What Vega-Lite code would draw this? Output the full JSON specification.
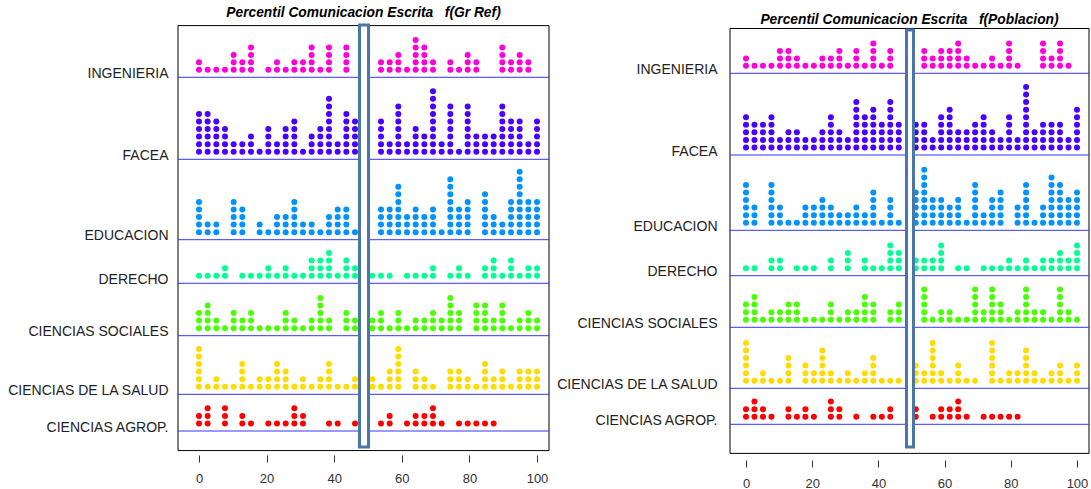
{
"$schema":"https://vega.github.io/schema/vega-lite/v6.json",
"autosize":{"type":"none"},
"padding":{"left":178,"top":25,"right":913,"bottom":464},
"background":"white",
"config":{"view":{"stroke":null},"font":"Liberation Sans","axis":{"labelFont":"Liberation Sans","titleFont":"Liberation Sans"},"title":{"font":"Liberation Sans"}},
"bounds":"flush",
"spacing":181,
"hconcat":[
{
"width":371,"height":430,
"title":{"text":"Percentil Comunicacion Escrita\u00a0\u00a0\u00a0f(Gr Ref)","fontSize":13.8,"fontStyle":"italic","fontWeight":"bold","anchor":"middle","frame":"group","offset":-7,"baseline":"alphabetic","color":"#000"},
"resolve":{"scale":{"y":"independent"},"axis":{"y":"independent"}},
"layer":[
{"data":{"values":"pct\n0\n0\n2.56\n5.13\n7.69\n10.26\n10.26\n10.26\n12.82\n12.82\n15.38\n15.38\n15.38\n15.38\n20.51\n23.08\n23.08\n25.64\n28.21\n28.21\n30.77\n30.77\n33.33\n33.33\n33.33\n33.33\n35.9\n38.46\n38.46\n38.46\n38.46\n43.59\n43.59\n43.59\n43.59\n53.85\n53.85\n56.41\n56.41\n58.97\n58.97\n58.97\n61.54\n64.1\n64.1\n64.1\n64.1\n64.1\n66.67\n66.67\n66.67\n66.67\n69.23\n69.23\n74.36\n74.36\n76.92\n79.49\n79.49\n79.49\n82.05\n82.05\n89.74\n89.74\n89.74\n89.74\n92.31\n92.31\n94.87\n94.87\n94.87\n97.44\n97.44","format":{"type":"csv","parse":{"pct":"number"}}},
"transform":[{"window":[{"op":"row_number","as":"n"}],"groupby":["pct"]}],
"layer":[
{"data":{"values":[{}]},"mark":{"type":"rect","filled":false,"stroke":"#000","strokeWidth":1},"encoding":{"x":{"datum":-6.21},"x2":{"datum":103.55},"y":{"datum":6.918},"y2":{"datum":-49.96}}},
{"mark":{"type":"circle","size":36,"opacity":1,"color":"#FF00DB"},"encoding":{"x":{"field":"pct","type":"quantitative","scale":{"domain":[-6.21,103.55],"nice":false,"zero":false},"axis":{"values":[0,20,40,60,80,100],"grid":false,"domain":false,"tickSize":7,"tickColor":"#333","labelFontSize":13,"labelColor":"#333","labelPadding":10,"title":null}},"y":{"field":"n","type":"quantitative","scale":{"domain":[0,6.918],"range":[52.3,0]},"axis":{"title":"INGENIERIA","orient":"left","titleAngle":0,"titleAlign":"right","titleBaseline":"alphabetic","titleX":-10,"titleY":52.3,"titleFontSize":14,"titleFontWeight":"normal","titleColor":"#222","titleLimit":400,"labels":false,"ticks":false,"domain":false,"grid":false}}}},
{"data":{"values":[{}]},"mark":{"type":"rule","color":"#3535ff","strokeWidth":1},"encoding":{"y":{"datum":0}}}
]},
{"data":{"values":"pct\n0\n0\n0\n0\n0\n0\n2.56\n2.56\n2.56\n2.56\n2.56\n2.56\n5.13\n5.13\n5.13\n5.13\n5.13\n7.69\n7.69\n7.69\n7.69\n10.26\n10.26\n12.82\n12.82\n15.38\n15.38\n15.38\n17.95\n20.51\n20.51\n20.51\n20.51\n23.08\n23.08\n25.64\n25.64\n25.64\n25.64\n28.21\n28.21\n28.21\n28.21\n28.21\n30.77\n33.33\n33.33\n33.33\n35.9\n35.9\n35.9\n35.9\n38.46\n38.46\n38.46\n38.46\n38.46\n38.46\n38.46\n38.46\n41.03\n41.03\n43.59\n43.59\n43.59\n43.59\n43.59\n43.59\n46.15\n46.15\n46.15\n46.15\n46.15\n53.85\n53.85\n53.85\n53.85\n53.85\n56.41\n56.41\n58.97\n58.97\n58.97\n58.97\n58.97\n58.97\n58.97\n61.54\n61.54\n64.1\n64.1\n64.1\n64.1\n66.67\n66.67\n66.67\n69.23\n69.23\n69.23\n69.23\n69.23\n69.23\n69.23\n69.23\n69.23\n71.79\n71.79\n74.36\n74.36\n74.36\n74.36\n74.36\n74.36\n74.36\n76.92\n79.49\n79.49\n79.49\n79.49\n79.49\n79.49\n79.49\n82.05\n82.05\n82.05\n84.62\n84.62\n84.62\n87.18\n87.18\n87.18\n89.74\n89.74\n89.74\n89.74\n89.74\n89.74\n89.74\n92.31\n92.31\n92.31\n92.31\n92.31\n94.87\n94.87\n94.87\n94.87\n94.87\n97.44\n97.44\n100\n100\n100\n100\n100","format":{"type":"csv","parse":{"pct":"number"}}},
"transform":[{"window":[{"op":"row_number","as":"n"}],"groupby":["pct"]}],
"layer":[
{"mark":{"type":"circle","size":36,"opacity":1,"color":"#4900FF"},"encoding":{"x":{"field":"pct","type":"quantitative","scale":{"domain":[-6.21,103.55],"nice":false,"zero":false},"axis":{"values":[0,20,40,60,80,100],"grid":false,"domain":false,"tickSize":7,"tickColor":"#333","labelFontSize":13,"labelColor":"#333","labelPadding":10,"title":null}},"y":{"field":"n","type":"quantitative","scale":{"domain":[0,10],"range":[134.3,58.7]},"axis":{"title":"FACEA","orient":"left","titleAngle":0,"titleAlign":"right","titleBaseline":"alphabetic","titleX":-10,"titleY":134.3,"titleFontSize":14,"titleFontWeight":"normal","titleColor":"#222","titleLimit":400,"labels":false,"ticks":false,"domain":false,"grid":false}}}},
{"data":{"values":[{}]},"mark":{"type":"rule","color":"#3535ff","strokeWidth":1},"encoding":{"y":{"datum":0}}}
]},
{"data":{"values":"pct\n0\n0\n0\n0\n0\n2.56\n2.56\n5.13\n5.13\n10.26\n10.26\n10.26\n10.26\n10.26\n12.82\n12.82\n12.82\n12.82\n17.95\n17.95\n20.51\n23.08\n23.08\n23.08\n25.64\n25.64\n25.64\n28.21\n28.21\n28.21\n28.21\n28.21\n30.77\n30.77\n33.33\n33.33\n35.9\n38.46\n38.46\n38.46\n41.03\n41.03\n41.03\n41.03\n43.59\n43.59\n43.59\n43.59\n46.15\n53.85\n53.85\n53.85\n53.85\n56.41\n56.41\n56.41\n56.41\n58.97\n58.97\n58.97\n58.97\n58.97\n58.97\n58.97\n61.54\n61.54\n61.54\n64.1\n64.1\n64.1\n64.1\n66.67\n66.67\n66.67\n69.23\n69.23\n69.23\n69.23\n71.79\n74.36\n74.36\n74.36\n74.36\n74.36\n74.36\n74.36\n74.36\n76.92\n76.92\n76.92\n76.92\n79.49\n79.49\n79.49\n79.49\n79.49\n84.62\n84.62\n84.62\n84.62\n84.62\n84.62\n87.18\n87.18\n87.18\n89.74\n89.74\n92.31\n92.31\n92.31\n92.31\n92.31\n94.87\n94.87\n94.87\n94.87\n94.87\n94.87\n94.87\n94.87\n94.87\n97.44\n97.44\n97.44\n97.44\n97.44\n100\n100\n100\n100\n100","format":{"type":"csv","parse":{"pct":"number"}}},
"transform":[{"window":[{"op":"row_number","as":"n"}],"groupby":["pct"]}],
"layer":[
{"mark":{"type":"circle","size":36,"opacity":1,"color":"#0092FF"},"encoding":{"x":{"field":"pct","type":"quantitative","scale":{"domain":[-6.21,103.55],"nice":false,"zero":false},"axis":{"values":[0,20,40,60,80,100],"grid":false,"domain":false,"tickSize":7,"tickColor":"#333","labelFontSize":13,"labelColor":"#333","labelPadding":10,"title":null}},"y":{"field":"n","type":"quantitative","scale":{"domain":[0,10],"range":[214.7,139.1]},"axis":{"title":"EDUCACION","orient":"left","titleAngle":0,"titleAlign":"right","titleBaseline":"alphabetic","titleX":-10,"titleY":214.7,"titleFontSize":14,"titleFontWeight":"normal","titleColor":"#222","titleLimit":400,"labels":false,"ticks":false,"domain":false,"grid":false}}}},
{"data":{"values":[{}]},"mark":{"type":"rule","color":"#3535ff","strokeWidth":1},"encoding":{"y":{"datum":0}}}
]},
{"data":{"values":"pct\n0\n2.56\n5.13\n7.69\n7.69\n12.82\n15.38\n17.95\n20.51\n20.51\n23.08\n25.64\n25.64\n28.21\n30.77\n33.33\n33.33\n33.33\n35.9\n35.9\n35.9\n38.46\n38.46\n38.46\n38.46\n41.03\n43.59\n43.59\n43.59\n46.15\n46.15\n51.28\n53.85\n56.41\n61.54\n64.1\n66.67\n69.23\n69.23\n74.36\n76.92\n76.92\n79.49\n84.62\n84.62\n87.18\n87.18\n87.18\n89.74\n92.31\n92.31\n92.31\n94.87\n97.44\n97.44\n100\n100","format":{"type":"csv","parse":{"pct":"number"}}},
"transform":[{"window":[{"op":"row_number","as":"n"}],"groupby":["pct"]}],
"layer":[
{"mark":{"type":"circle","size":36,"opacity":1,"color":"#00FF92"},"encoding":{"x":{"field":"pct","type":"quantitative","scale":{"domain":[-6.21,103.55],"nice":false,"zero":false},"axis":{"values":[0,20,40,60,80,100],"grid":false,"domain":false,"tickSize":7,"tickColor":"#333","labelFontSize":13,"labelColor":"#333","labelPadding":10,"title":null}},"y":{"field":"n","type":"quantitative","scale":{"domain":[0,10],"range":[258.3,182.7]},"axis":{"title":"DERECHO","orient":"left","titleAngle":0,"titleAlign":"right","titleBaseline":"alphabetic","titleX":-10,"titleY":258.3,"titleFontSize":14,"titleFontWeight":"normal","titleColor":"#222","titleLimit":400,"labels":false,"ticks":false,"domain":false,"grid":false}}}},
{"data":{"values":[{}]},"mark":{"type":"rule","color":"#3535ff","strokeWidth":1},"encoding":{"y":{"datum":0}}}
]},
{"data":{"values":"pct\n0\n0\n0\n2.56\n2.56\n2.56\n2.56\n5.13\n5.13\n7.69\n10.26\n10.26\n10.26\n12.82\n12.82\n15.38\n15.38\n15.38\n17.95\n20.51\n23.08\n25.64\n25.64\n25.64\n28.21\n28.21\n30.77\n33.33\n33.33\n35.9\n35.9\n35.9\n35.9\n35.9\n38.46\n38.46\n43.59\n43.59\n43.59\n46.15\n46.15\n51.28\n51.28\n53.85\n53.85\n53.85\n56.41\n58.97\n58.97\n58.97\n61.54\n64.1\n64.1\n66.67\n66.67\n69.23\n69.23\n69.23\n71.79\n71.79\n74.36\n74.36\n74.36\n74.36\n74.36\n76.92\n76.92\n76.92\n82.05\n82.05\n82.05\n82.05\n84.62\n84.62\n84.62\n84.62\n87.18\n87.18\n89.74\n89.74\n89.74\n89.74\n92.31\n94.87\n94.87\n97.44\n97.44\n97.44\n100\n100","format":{"type":"csv","parse":{"pct":"number"}}},
"transform":[{"window":[{"op":"row_number","as":"n"}],"groupby":["pct"]}],
"layer":[
{"mark":{"type":"circle","size":36,"opacity":1,"color":"#49FF00"},"encoding":{"x":{"field":"pct","type":"quantitative","scale":{"domain":[-6.21,103.55],"nice":false,"zero":false},"axis":{"values":[0,20,40,60,80,100],"grid":false,"domain":false,"tickSize":7,"tickColor":"#333","labelFontSize":13,"labelColor":"#333","labelPadding":10,"title":null}},"y":{"field":"n","type":"quantitative","scale":{"domain":[0,10],"range":[310.7,235.1]},"axis":{"title":"CIENCIAS SOCIALES","orient":"left","titleAngle":0,"titleAlign":"right","titleBaseline":"alphabetic","titleX":-10,"titleY":310.7,"titleFontSize":14,"titleFontWeight":"normal","titleColor":"#222","titleLimit":400,"labels":false,"ticks":false,"domain":false,"grid":false}}}},
{"data":{"values":[{}]},"mark":{"type":"rule","color":"#3535ff","strokeWidth":1},"encoding":{"y":{"datum":0}}}
]},
{"data":{"values":"pct\n0\n0\n0\n0\n0\n0\n2.56\n5.13\n5.13\n7.69\n10.26\n12.82\n12.82\n12.82\n12.82\n15.38\n17.95\n17.95\n20.51\n20.51\n23.08\n23.08\n23.08\n23.08\n25.64\n25.64\n25.64\n28.21\n30.77\n30.77\n33.33\n35.9\n35.9\n38.46\n38.46\n38.46\n38.46\n41.03\n43.59\n46.15\n46.15\n51.28\n51.28\n53.85\n56.41\n56.41\n56.41\n58.97\n58.97\n58.97\n58.97\n58.97\n58.97\n64.1\n64.1\n64.1\n66.67\n66.67\n69.23\n74.36\n74.36\n74.36\n76.92\n76.92\n76.92\n79.49\n79.49\n82.05\n84.62\n84.62\n84.62\n84.62\n87.18\n87.18\n89.74\n89.74\n89.74\n92.31\n94.87\n94.87\n94.87\n97.44\n97.44\n97.44\n100\n100\n100","format":{"type":"csv","parse":{"pct":"number"}}},
"transform":[{"window":[{"op":"row_number","as":"n"}],"groupby":["pct"]}],
"layer":[
{"mark":{"type":"circle","size":36,"opacity":1,"color":"#FFDB00"},"encoding":{"x":{"field":"pct","type":"quantitative","scale":{"domain":[-6.21,103.55],"nice":false,"zero":false},"axis":{"values":[0,20,40,60,80,100],"grid":false,"domain":false,"tickSize":7,"tickColor":"#333","labelFontSize":13,"labelColor":"#333","labelPadding":10,"title":null}},"y":{"field":"n","type":"quantitative","scale":{"domain":[0,10],"range":[369.3,293.7]},"axis":{"title":"CIENCIAS DE LA SALUD","orient":"left","titleAngle":0,"titleAlign":"right","titleBaseline":"alphabetic","titleX":-10,"titleY":369.3,"titleFontSize":14,"titleFontWeight":"normal","titleColor":"#222","titleLimit":400,"labels":false,"ticks":false,"domain":false,"grid":false}}}},
{"data":{"values":[{}]},"mark":{"type":"rule","color":"#3535ff","strokeWidth":1},"encoding":{"y":{"datum":0}}}
]},
{"data":{"values":"pct\n0\n0\n2.56\n2.56\n2.56\n7.69\n7.69\n7.69\n12.82\n12.82\n15.38\n20.51\n23.08\n25.64\n28.21\n28.21\n28.21\n30.77\n30.77\n38.46\n41.03\n46.15\n53.85\n56.41\n56.41\n61.54\n64.1\n64.1\n66.67\n66.67\n69.23\n69.23\n69.23\n71.79\n76.92\n79.49\n82.05\n84.62\n87.18","format":{"type":"csv","parse":{"pct":"number"}}},
"transform":[{"window":[{"op":"row_number","as":"n"}],"groupby":["pct"]}],
"layer":[
{"mark":{"type":"circle","size":36,"opacity":1,"color":"#FF0000"},"encoding":{"x":{"field":"pct","type":"quantitative","scale":{"domain":[-6.21,103.55],"nice":false,"zero":false},"axis":{"values":[0,20,40,60,80,100],"grid":false,"domain":false,"tickSize":7,"tickColor":"#333","labelFontSize":13,"labelColor":"#333","labelPadding":10,"title":null}},"y":{"field":"n","type":"quantitative","scale":{"domain":[0,10],"range":[406,330.4]},"axis":{"title":"CIENCIAS AGROP.","orient":"left","titleAngle":0,"titleAlign":"right","titleBaseline":"alphabetic","titleX":-10,"titleY":406,"titleFontSize":14,"titleFontWeight":"normal","titleColor":"#222","titleLimit":400,"labels":false,"ticks":false,"domain":false,"grid":false}}}},
{"data":{"values":[{}]},"mark":{"type":"rule","color":"#3535ff","strokeWidth":1},"encoding":{"y":{"datum":0}}},
{"data":{"values":[{}]},"mark":{"type":"rect","fill":"white","stroke":"#4a76a6","strokeWidth":3},"encoding":{"x":{"datum":47.49},"x2":{"datum":50.15},"y":{"datum":53.7},"y2":{"datum":-2.116}}}
]}
]
},
{
"width":359,"height":435,
"title":{"text":"Percentil Comunicacion Escrita\u00a0\u00a0\u00a0f(Poblacion)","fontSize":13.8,"fontStyle":"italic","fontWeight":"bold","anchor":"middle","frame":"group","offset":-12.3,"baseline":"alphabetic","color":"#000"},
"resolve":{"scale":{"y":"independent"},"axis":{"y":"independent"}},
"layer":[
{"data":{"values":"pct\n0\n0\n2.56\n5.13\n7.69\n10.26\n10.26\n10.26\n12.82\n12.82\n12.82\n15.38\n15.38\n17.95\n20.51\n23.08\n23.08\n25.64\n25.64\n28.21\n28.21\n28.21\n30.77\n33.33\n33.33\n33.33\n35.9\n38.46\n38.46\n38.46\n38.46\n41.03\n43.59\n43.59\n43.59\n53.85\n53.85\n53.85\n56.41\n56.41\n58.97\n58.97\n58.97\n61.54\n61.54\n61.54\n64.1\n64.1\n64.1\n64.1\n66.67\n66.67\n69.23\n71.79\n74.36\n74.36\n76.92\n79.49\n79.49\n79.49\n79.49\n82.05\n89.74\n89.74\n89.74\n89.74\n92.31\n92.31\n94.87\n94.87\n94.87\n94.87\n97.44","format":{"type":"csv","parse":{"pct":"number"}}},
"transform":[{"window":[{"op":"row_number","as":"n"}],"groupby":["pct"]}],
"layer":[
{"data":{"values":[{}]},"mark":{"type":"rect","filled":false,"stroke":"#000","strokeWidth":1},"encoding":{"x":{"datum":-4.83},"x2":{"datum":103.63},"y":{"datum":6.032},"y2":{"datum":-51.15}}},
{"mark":{"type":"circle","size":36,"opacity":1,"color":"#FF00DB"},"encoding":{"x":{"field":"pct","type":"quantitative","scale":{"domain":[-4.83,103.63],"nice":false,"zero":false},"axis":{"values":[0,20,40,60,80,100],"grid":false,"domain":false,"tickSize":7,"tickColor":"#333","labelFontSize":13,"labelColor":"#333","labelPadding":10,"title":null}},"y":{"field":"n","type":"quantitative","scale":{"domain":[0,6.389],"range":[48.3,0]},"axis":{"title":"INGENIERIA","orient":"left","titleAngle":0,"titleAlign":"right","titleBaseline":"alphabetic","titleX":-13,"titleY":48.3,"titleFontSize":14,"titleFontWeight":"normal","titleColor":"#222","titleLimit":400,"labels":false,"ticks":false,"domain":false,"grid":false}}}},
{"data":{"values":[{}]},"mark":{"type":"rule","color":"#3535ff","strokeWidth":1},"encoding":{"y":{"datum":0}}}
]},
{"data":{"values":"pct\n0\n0\n0\n0\n0\n2.56\n2.56\n2.56\n2.56\n5.13\n5.13\n5.13\n5.13\n7.69\n7.69\n7.69\n7.69\n7.69\n10.26\n10.26\n12.82\n12.82\n12.82\n15.38\n15.38\n15.38\n17.95\n17.95\n20.51\n20.51\n23.08\n23.08\n23.08\n25.64\n25.64\n25.64\n25.64\n25.64\n28.21\n28.21\n28.21\n30.77\n30.77\n33.33\n33.33\n33.33\n33.33\n33.33\n33.33\n33.33\n35.9\n35.9\n35.9\n35.9\n35.9\n38.46\n38.46\n38.46\n38.46\n38.46\n38.46\n41.03\n41.03\n41.03\n41.03\n43.59\n43.59\n43.59\n43.59\n43.59\n43.59\n43.59\n46.15\n46.15\n46.15\n46.15\n51.28\n51.28\n51.28\n51.28\n53.85\n53.85\n53.85\n53.85\n56.41\n56.41\n58.97\n58.97\n58.97\n58.97\n58.97\n61.54\n61.54\n61.54\n61.54\n61.54\n61.54\n64.1\n64.1\n64.1\n66.67\n66.67\n66.67\n69.23\n69.23\n69.23\n69.23\n71.79\n71.79\n71.79\n71.79\n71.79\n74.36\n74.36\n74.36\n76.92\n76.92\n79.49\n79.49\n79.49\n79.49\n79.49\n82.05\n82.05\n84.62\n84.62\n84.62\n84.62\n84.62\n84.62\n84.62\n84.62\n84.62\n87.18\n87.18\n87.18\n89.74\n89.74\n89.74\n89.74\n92.31\n92.31\n92.31\n92.31\n94.87\n94.87\n94.87\n94.87\n97.44\n97.44\n100\n100\n100\n100\n100\n100","format":{"type":"csv","parse":{"pct":"number"}}},
"transform":[{"window":[{"op":"row_number","as":"n"}],"groupby":["pct"]}],
"layer":[
{"mark":{"type":"circle","size":36,"opacity":1,"color":"#4900FF"},"encoding":{"x":{"field":"pct","type":"quantitative","scale":{"domain":[-4.83,103.63],"nice":false,"zero":false},"axis":{"values":[0,20,40,60,80,100],"grid":false,"domain":false,"tickSize":7,"tickColor":"#333","labelFontSize":13,"labelColor":"#333","labelPadding":10,"title":null}},"y":{"field":"n","type":"quantitative","scale":{"domain":[0,10],"range":[130,54.4]},"axis":{"title":"FACEA","orient":"left","titleAngle":0,"titleAlign":"right","titleBaseline":"alphabetic","titleX":-13,"titleY":130,"titleFontSize":14,"titleFontWeight":"normal","titleColor":"#222","titleLimit":400,"labels":false,"ticks":false,"domain":false,"grid":false}}}},
{"data":{"values":[{}]},"mark":{"type":"rule","color":"#3535ff","strokeWidth":1},"encoding":{"y":{"datum":0}}}
]},
{"data":{"values":"pct\n0\n0\n0\n0\n0\n0\n2.56\n2.56\n2.56\n7.69\n7.69\n7.69\n7.69\n7.69\n7.69\n10.26\n10.26\n10.26\n12.82\n15.38\n17.95\n17.95\n17.95\n20.51\n20.51\n20.51\n23.08\n23.08\n23.08\n23.08\n25.64\n25.64\n25.64\n28.21\n28.21\n30.77\n30.77\n33.33\n33.33\n33.33\n35.9\n35.9\n38.46\n38.46\n38.46\n38.46\n38.46\n41.03\n43.59\n43.59\n43.59\n43.59\n46.15\n51.28\n51.28\n51.28\n51.28\n51.28\n53.85\n53.85\n53.85\n53.85\n53.85\n53.85\n53.85\n53.85\n56.41\n56.41\n56.41\n56.41\n58.97\n58.97\n58.97\n58.97\n61.54\n61.54\n61.54\n64.1\n64.1\n64.1\n64.1\n66.67\n69.23\n69.23\n69.23\n69.23\n69.23\n69.23\n71.79\n71.79\n74.36\n74.36\n74.36\n74.36\n76.92\n76.92\n76.92\n76.92\n76.92\n82.05\n82.05\n82.05\n84.62\n84.62\n84.62\n84.62\n84.62\n84.62\n87.18\n89.74\n89.74\n89.74\n92.31\n92.31\n92.31\n92.31\n92.31\n92.31\n92.31\n94.87\n94.87\n94.87\n94.87\n94.87\n94.87\n97.44\n97.44\n97.44\n97.44\n100\n100\n100\n100\n100","format":{"type":"csv","parse":{"pct":"number"}}},
"transform":[{"window":[{"op":"row_number","as":"n"}],"groupby":["pct"]}],
"layer":[
{"mark":{"type":"circle","size":36,"opacity":1,"color":"#0092FF"},"encoding":{"x":{"field":"pct","type":"quantitative","scale":{"domain":[-4.83,103.63],"nice":false,"zero":false},"axis":{"values":[0,20,40,60,80,100],"grid":false,"domain":false,"tickSize":7,"tickColor":"#333","labelFontSize":13,"labelColor":"#333","labelPadding":10,"title":null}},"y":{"field":"n","type":"quantitative","scale":{"domain":[0,10],"range":[205.3,129.7]},"axis":{"title":"EDUCACION","orient":"left","titleAngle":0,"titleAlign":"right","titleBaseline":"alphabetic","titleX":-13,"titleY":205.3,"titleFontSize":14,"titleFontWeight":"normal","titleColor":"#222","titleLimit":400,"labels":false,"ticks":false,"domain":false,"grid":false}}}},
{"data":{"values":[{}]},"mark":{"type":"rule","color":"#3535ff","strokeWidth":1},"encoding":{"y":{"datum":0}}}
]},
{"data":{"values":"pct\n0\n2.56\n7.69\n7.69\n10.26\n10.26\n15.38\n17.95\n20.51\n25.64\n25.64\n30.77\n30.77\n30.77\n35.9\n35.9\n38.46\n41.03\n43.59\n43.59\n43.59\n43.59\n46.15\n46.15\n46.15\n51.28\n51.28\n53.85\n53.85\n56.41\n56.41\n58.97\n58.97\n58.97\n58.97\n64.1\n66.67\n71.79\n74.36\n76.92\n79.49\n79.49\n82.05\n84.62\n84.62\n87.18\n89.74\n89.74\n92.31\n92.31\n94.87\n94.87\n94.87\n97.44\n97.44\n100\n100\n100\n100","format":{"type":"csv","parse":{"pct":"number"}}},
"transform":[{"window":[{"op":"row_number","as":"n"}],"groupby":["pct"]}],
"layer":[
{"mark":{"type":"circle","size":36,"opacity":1,"color":"#00FF92"},"encoding":{"x":{"field":"pct","type":"quantitative","scale":{"domain":[-4.83,103.63],"nice":false,"zero":false},"axis":{"values":[0,20,40,60,80,100],"grid":false,"domain":false,"tickSize":7,"tickColor":"#333","labelFontSize":13,"labelColor":"#333","labelPadding":10,"title":null}},"y":{"field":"n","type":"quantitative","scale":{"domain":[0,10],"range":[250.7,175.1]},"axis":{"title":"DERECHO","orient":"left","titleAngle":0,"titleAlign":"right","titleBaseline":"alphabetic","titleX":-13,"titleY":250.7,"titleFontSize":14,"titleFontWeight":"normal","titleColor":"#222","titleLimit":400,"labels":false,"ticks":false,"domain":false,"grid":false}}}},
{"data":{"values":[{}]},"mark":{"type":"rule","color":"#3535ff","strokeWidth":1},"encoding":{"y":{"datum":0}}}
]},
{"data":{"values":"pct\n0\n0\n0\n2.56\n2.56\n2.56\n2.56\n5.13\n7.69\n7.69\n10.26\n10.26\n12.82\n12.82\n12.82\n15.38\n15.38\n15.38\n17.95\n20.51\n23.08\n25.64\n25.64\n25.64\n28.21\n30.77\n30.77\n33.33\n33.33\n35.9\n35.9\n35.9\n35.9\n38.46\n38.46\n38.46\n43.59\n43.59\n46.15\n46.15\n46.15\n53.85\n53.85\n53.85\n53.85\n53.85\n56.41\n58.97\n58.97\n61.54\n61.54\n64.1\n66.67\n69.23\n69.23\n69.23\n69.23\n69.23\n71.79\n71.79\n74.36\n74.36\n74.36\n74.36\n74.36\n76.92\n76.92\n76.92\n79.49\n82.05\n82.05\n84.62\n84.62\n84.62\n84.62\n84.62\n87.18\n87.18\n89.74\n89.74\n92.31\n94.87\n94.87\n94.87\n94.87\n94.87\n97.44\n97.44\n100","format":{"type":"csv","parse":{"pct":"number"}}},
"transform":[{"window":[{"op":"row_number","as":"n"}],"groupby":["pct"]}],
"layer":[
{"mark":{"type":"circle","size":36,"opacity":1,"color":"#49FF00"},"encoding":{"x":{"field":"pct","type":"quantitative","scale":{"domain":[-4.83,103.63],"nice":false,"zero":false},"axis":{"values":[0,20,40,60,80,100],"grid":false,"domain":false,"tickSize":7,"tickColor":"#333","labelFontSize":13,"labelColor":"#333","labelPadding":10,"title":null}},"y":{"field":"n","type":"quantitative","scale":{"domain":[0,10],"range":[302.3,226.7]},"axis":{"title":"CIENCIAS SOCIALES","orient":"left","titleAngle":0,"titleAlign":"right","titleBaseline":"alphabetic","titleX":-13,"titleY":302.3,"titleFontSize":14,"titleFontWeight":"normal","titleColor":"#222","titleLimit":400,"labels":false,"ticks":false,"domain":false,"grid":false}}}},
{"data":{"values":[{}]},"mark":{"type":"rule","color":"#3535ff","strokeWidth":1},"encoding":{"y":{"datum":0}}}
]},
{"data":{"values":"pct\n0\n0\n0\n0\n0\n0\n2.56\n5.13\n5.13\n7.69\n10.26\n12.82\n12.82\n12.82\n12.82\n17.95\n17.95\n17.95\n20.51\n20.51\n23.08\n23.08\n23.08\n23.08\n23.08\n25.64\n25.64\n28.21\n30.77\n30.77\n33.33\n35.9\n35.9\n38.46\n38.46\n38.46\n38.46\n41.03\n43.59\n46.15\n51.28\n51.28\n51.28\n53.85\n53.85\n56.41\n56.41\n56.41\n56.41\n56.41\n56.41\n58.97\n58.97\n61.54\n64.1\n64.1\n64.1\n66.67\n69.23\n74.36\n74.36\n74.36\n74.36\n74.36\n74.36\n76.92\n79.49\n79.49\n82.05\n82.05\n84.62\n84.62\n84.62\n84.62\n84.62\n87.18\n87.18\n89.74\n92.31\n92.31\n94.87\n94.87\n94.87\n97.44\n100\n100\n100","format":{"type":"csv","parse":{"pct":"number"}}},
"transform":[{"window":[{"op":"row_number","as":"n"}],"groupby":["pct"]}],
"layer":[
{"mark":{"type":"circle","size":36,"opacity":1,"color":"#FFDB00"},"encoding":{"x":{"field":"pct","type":"quantitative","scale":{"domain":[-4.83,103.63],"nice":false,"zero":false},"axis":{"values":[0,20,40,60,80,100],"grid":false,"domain":false,"tickSize":7,"tickColor":"#333","labelFontSize":13,"labelColor":"#333","labelPadding":10,"title":null}},"y":{"field":"n","type":"quantitative","scale":{"domain":[0,10],"range":[363.3,287.7]},"axis":{"title":"CIENCIAS DE LA SALUD","orient":"left","titleAngle":0,"titleAlign":"right","titleBaseline":"alphabetic","titleX":-13,"titleY":363.3,"titleFontSize":14,"titleFontWeight":"normal","titleColor":"#222","titleLimit":400,"labels":false,"ticks":false,"domain":false,"grid":false}}}},
{"data":{"values":[{}]},"mark":{"type":"rule","color":"#3535ff","strokeWidth":1},"encoding":{"y":{"datum":0}}}
]},
{"data":{"values":"pct\n0\n0\n2.56\n2.56\n2.56\n5.13\n5.13\n7.69\n12.82\n12.82\n15.38\n17.95\n17.95\n20.51\n25.64\n25.64\n25.64\n28.21\n28.21\n33.33\n38.46\n41.03\n43.59\n43.59\n51.28\n51.28\n56.41\n58.97\n58.97\n61.54\n61.54\n64.1\n64.1\n64.1\n66.67\n71.79\n74.36\n76.92\n79.49\n82.05","format":{"type":"csv","parse":{"pct":"number"}}},
"transform":[{"window":[{"op":"row_number","as":"n"}],"groupby":["pct"]}],
"layer":[
{"mark":{"type":"circle","size":36,"opacity":1,"color":"#FF0000"},"encoding":{"x":{"field":"pct","type":"quantitative","scale":{"domain":[-4.83,103.63],"nice":false,"zero":false},"axis":{"values":[0,20,40,60,80,100],"grid":false,"domain":false,"tickSize":7,"tickColor":"#333","labelFontSize":13,"labelColor":"#333","labelPadding":10,"title":null}},"y":{"field":"n","type":"quantitative","scale":{"domain":[0,10],"range":[399.3,323.7]},"axis":{"title":"CIENCIAS AGROP.","orient":"left","titleAngle":0,"titleAlign":"right","titleBaseline":"alphabetic","titleX":-13,"titleY":399.3,"titleFontSize":14,"titleFontWeight":"normal","titleColor":"#222","titleLimit":400,"labels":false,"ticks":false,"domain":false,"grid":false}}}},
{"data":{"values":[{}]},"mark":{"type":"rule","color":"#3535ff","strokeWidth":1},"encoding":{"y":{"datum":0}}},
{"data":{"values":[{}]},"mark":{"type":"rect","fill":"white","stroke":"#4a76a6","strokeWidth":3},"encoding":{"x":{"datum":48.49},"x2":{"datum":50.6},"y":{"datum":52.16},"y2":{"datum":-3.0}}}
]}
]
}
]
}
